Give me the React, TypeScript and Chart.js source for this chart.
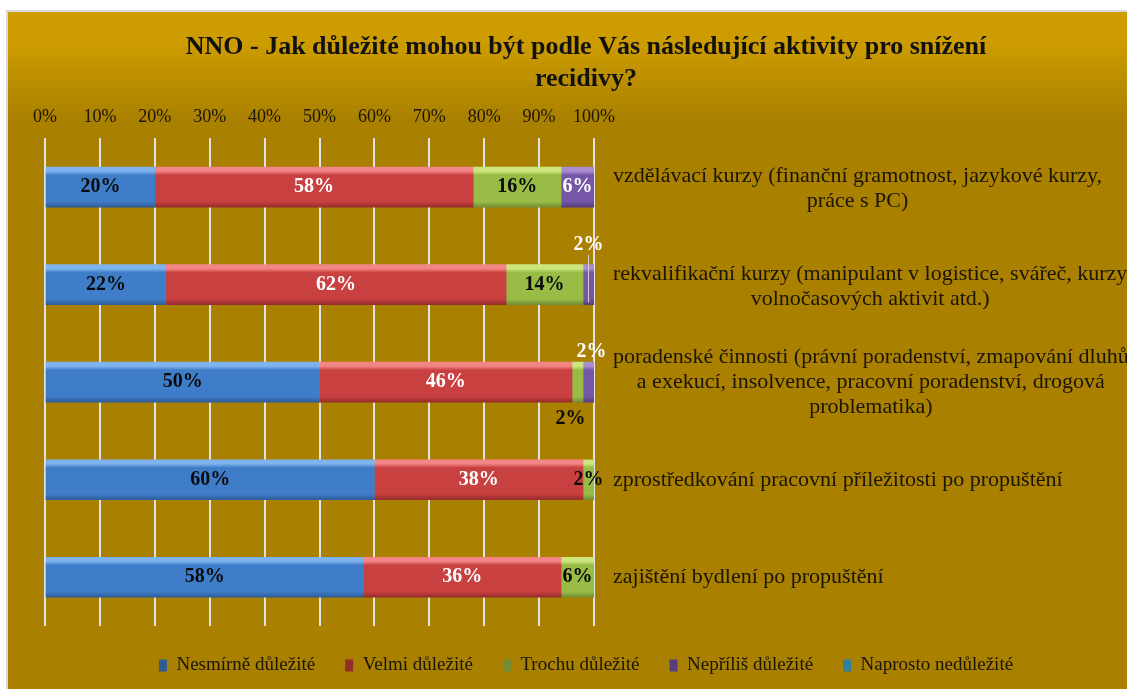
import { useEffect, useRef } from 'react';
import { Chart, registerables } from 'chart.js';

Chart.register(...registerables);

const TITLE = ['NNO - Jak důležité mohou být podle Vás následující aktivity pro snížení', 'recidivy?'];

const CATEGORIES: string[][] = [
  ['vzdělávací kurzy (finanční gramotnost, jazykové kurzy,', 'práce s PC)'],
  ['rekvalifikační kurzy (manipulant v logistice, svářeč, kurzy', 'volnočasových aktivit atd.)'],
  ['poradenské činnosti (právní poradenství, zmapování dluhů', 'a exekucí, insolvence, pracovní poradenství, drogová', 'problematika)'],
  ['zprostředkování pracovní příležitosti po propuštění'],
  ['zajištění bydlení po propuštění'],
];

const SERIES_NAMES = ['Nesmírně důležité', 'Velmi důležité', 'Trochu důležité', 'Nepříliš důležité', 'Naprosto nedůležité'];
const NESMIRNE = [20, 22, 50, 60, 58];
const VELMI = [58, 62, 46, 38, 36];
const TROCHU = [16, 14, 2, 2, 6];
const NEPRILIS = [6, 2, 2, 0, 0];
const NAPROSTO = [0, 0, 0, 0, 0];

const X_MIN = 0;
const X_MAX = 100;
const X_STEP = 10;

const FONT = '"Liberation Serif", "Times New Roman", serif';
const TEXT = '#1a1505';

// [base, light, mid, dark]
const PALETTE = [
  ['#4A7EBB', '#7FB3EE', '#3F7DC8', '#2E5C98'],
  ['#C0504D', '#F28585', '#C94040', '#942D2B'],
  ['#9BBB59', '#CDE67E', '#98BC46', '#738D36'],
  ['#8064A2', '#A88DD0', '#7656A6', '#573D7E'],
  ['#4BACC6', '#86D8EE', '#3FB0CE', '#2E8299'],
];
const LABEL_COLORS = ['#0a0a0a', '#ffffff', '#0a0a0a', '#ffffff', '#0a0a0a'];

const BAR_H = 40;

const makeFill = (si: number) => (ctx: any) => {
  const [base, light, mid, dark] = PALETTE[si];
  if (ctx.type !== 'data') return base;
  const chart = ctx.chart;
  const ys = chart.scales?.y;
  if (!ys) return base;
  const cy = ys.getPixelForValue(ctx.dataIndex);
  if (!Number.isFinite(cy)) return base;
  const g = chart.ctx.createLinearGradient(0, cy - BAR_H / 2, 0, cy + BAR_H / 2);
  g.addColorStop(0, light);
  g.addColorStop(0.1, light);
  g.addColorStop(0.2, mid);
  g.addColorStop(0.86, mid);
  g.addColorStop(1, dark);
  return g;
};

const backgroundPlugin = {
  id: 'bg',
  beforeDraw(chart: any) {
    const { ctx, width, height } = chart;
    ctx.save();
    const g = ctx.createLinearGradient(0, 0, 0, height);
    g.addColorStop(0, '#CD9D00');
    g.addColorStop(0.05, '#CB9B00');
    g.addColorStop(0.16, '#A98000');
    g.addColorStop(1, '#A98000');
    ctx.fillStyle = g;
    ctx.fillRect(0, 0, width, height);
    ctx.restore();
  },
};

const yLabelPlugin = {
  id: 'yLabels',
  afterDraw(chart: any) {
    const ys = chart.scales.y;
    const ctx = chart.ctx;
    ctx.save();
    ctx.font = `22px ${FONT}`;
    ctx.fillStyle = TEXT;
    ctx.textAlign = 'center';
    ctx.textBaseline = 'middle';
    const lineH = 25;
    const labels = chart.data.labels as string[][];
    labels.forEach((lines, i) => {
      const cy = ys.getPixelForTick(i) + (lines.length === 2 ? 2 : 0);
      const maxW = Math.max(...lines.map((l) => ctx.measureText(l).width));
      const cx = ys.left + 19 + maxW / 2;
      lines.forEach((l, j) => {
        ctx.fillText(l, cx, cy + (j - (lines.length - 1) / 2) * lineH);
      });
    });
    ctx.restore();
  },
};

const dataLabelPlugin = {
  id: 'dataLabels',
  afterDatasetsDraw(chart: any) {
    const ctx = chart.ctx;
    ctx.save();
    ctx.font = `bold 20px ${FONT}`;
    ctx.textAlign = 'center';
    ctx.textBaseline = 'middle';
    const dsets = chart.data.datasets;
    dsets.forEach((ds: any, di: number) => {
      const meta = chart.getDatasetMeta(di);
      if (meta.hidden) return;
      meta.data.forEach((el: any, i: number) => {
        const v = ds.data[i];
        if (!v) return;
        const { x, y, base, height } = el.getProps(['x', 'y', 'base', 'height'], true);
        const top = y - height / 2;
        const bottom = y + height / 2;
        let cx = (x + base) / 2;
        let cy = y;
        const small = v < 4;
        if (small && di === 3) {
          const greenSmall = dsets[2].data[i] > 0 && dsets[2].data[i] < 4;
          if (greenSmall) {
            cy = top - 10;
            cx = cx + 3;
          } else {
            cy = top - 20;
            ctx.strokeStyle = '#cfcfcf';
            ctx.lineWidth = 1;
            ctx.beginPath();
            ctx.moveTo(cx, cy + 10);
            ctx.lineTo(cx, bottom - 2);
            ctx.stroke();
          }
        } else if (small && di === 2) {
          const purpleSmall = dsets[3].data[i] > 0 && dsets[3].data[i] < 4;
          if (purpleSmall) {
            cy = bottom + 17;
            cx = cx - 7;
          }
        }
        ctx.fillStyle = LABEL_COLORS[di];
        ctx.fillText(`${v}%`, cx, cy);
      });
    });
    ctx.restore();
  },
};

export default function App() {
  const ref = useRef<HTMLCanvasElement>(null);

  useEffect(() => {
    const seriesData = [NESMIRNE, VELMI, TROCHU, NEPRILIS, NAPROSTO];
    const chart = new Chart(ref.current as HTMLCanvasElement, {
      type: 'bar',
      data: {
        labels: CATEGORIES,
        datasets: SERIES_NAMES.map((name, si) => ({
          label: name,
          data: seriesData[si],
          backgroundColor: makeFill(si),
          borderWidth: 0,
          barThickness: BAR_H,
        })),
      },
      options: {
        indexAxis: 'y',
        responsive: false,
        animation: false,
        layout: { padding: { left: 37, right: 0, top: 0, bottom: 4 } },
        scales: {
          x: {
            type: 'linear',
            position: 'top',
            stacked: true,
            min: X_MIN,
            max: X_MAX,
            ticks: {
              stepSize: X_STEP,
              callback: (v: any) => `${v}%`,
              font: { family: FONT, size: 18 },
              color: TEXT,
              padding: 10,
              maxRotation: 0,
            },
            grid: { color: '#e2e2e2', lineWidth: 2, drawTicks: false },
            border: { display: false },
            afterFit: (s: any) => {
              s.height = 44;
            },
          },
          y: {
            type: 'category',
            position: 'right',
            stacked: true,
            grid: { display: false },
            border: { display: false },
            ticks: { display: false },
            afterFit: (s: any) => {
              s.width = 533;
            },
          },
        },
        plugins: {
          title: {
            display: true,
            text: TITLE,
            color: '#111111',
            font: { family: FONT, size: 26, weight: 'bold', lineHeight: 1.2 },
            padding: { top: 20, bottom: 0 },
          },
          legend: {
            position: 'bottom',
            labels: {
              boxWidth: 8,
              boxHeight: 12,
              padding: 30,
              color: TEXT,
              font: { family: FONT, size: 19 },
            },
          },
          tooltip: { enabled: false },
        },
      },
      plugins: [backgroundPlugin, dataLabelPlugin, yLabelPlugin],
    } as any);
    return () => chart.destroy();
  }, []);

  return (
    <div
      style={{
        position: 'absolute',
        left: 6,
        top: 10,
        width: 1121,
        height: 679,
        boxSizing: 'border-box',
        borderTop: '2px solid #d9d9d9',
        borderLeft: '2px solid #d9d9d9',
        overflow: 'hidden',
      }}
    >
      <canvas ref={ref} width={1119} height={677} style={{ display: 'block', width: 1119, height: 677 }} />
    </div>
  );
}
